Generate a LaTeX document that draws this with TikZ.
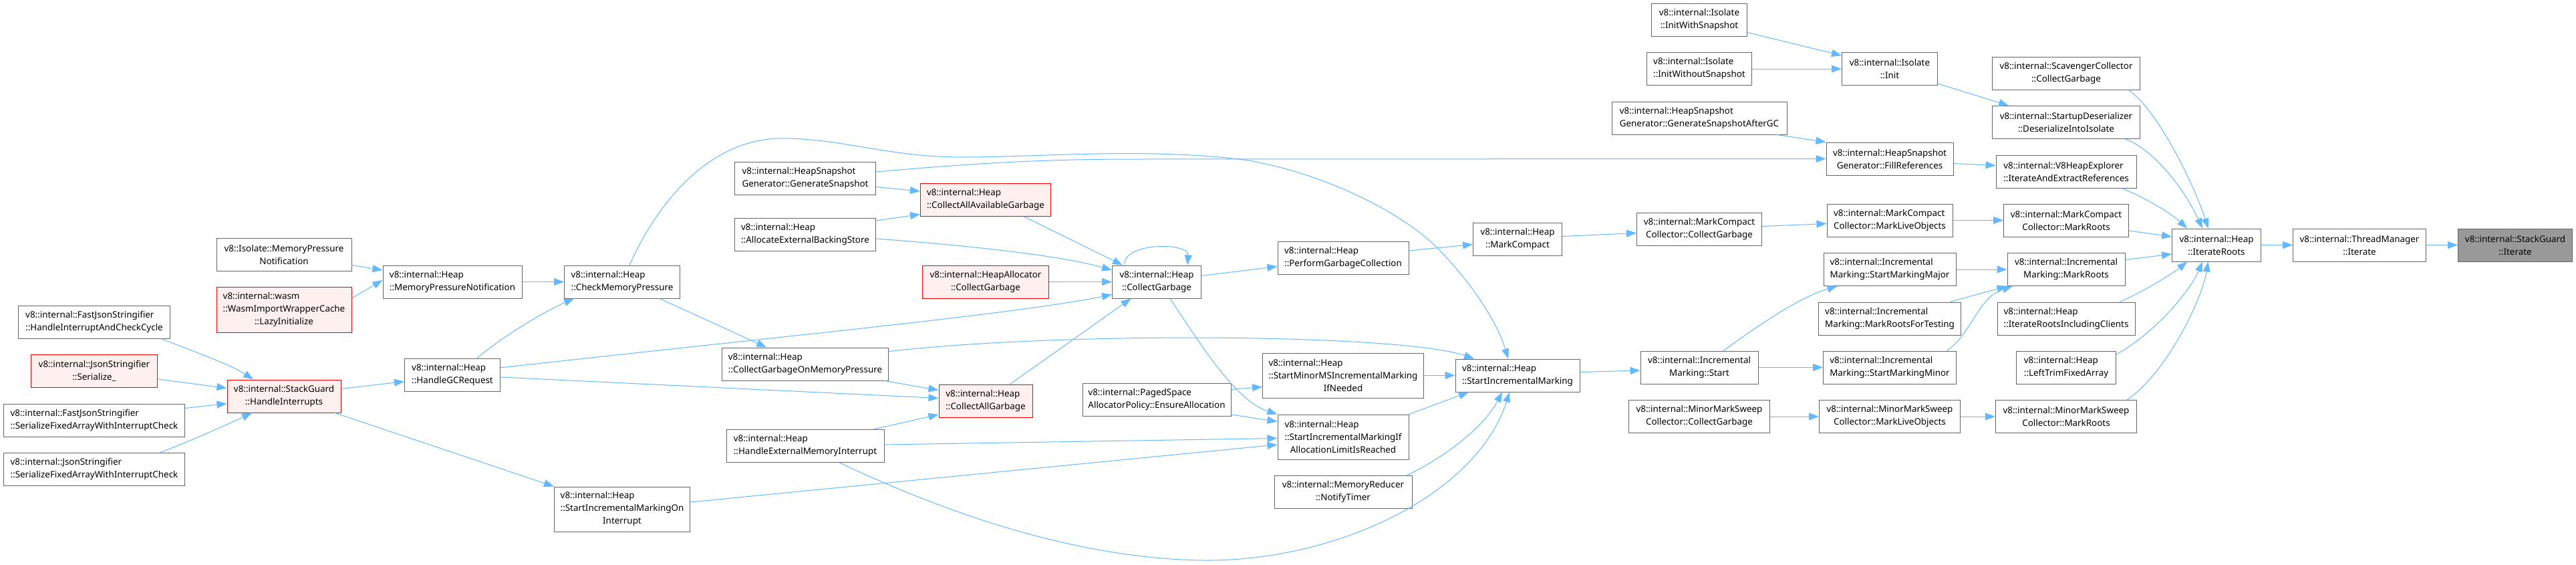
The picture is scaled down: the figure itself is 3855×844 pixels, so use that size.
\documentclass[tikz,border=0pt]{standalone}
\usepackage{fontspec}
\setmainfont{Noto Sans}
\usetikzlibrary{arrows.meta}

\definecolor{edgeblue}{HTML}{63B8FF}
\definecolor{boxline}{HTML}{666666}
\definecolor{redfill}{HTML}{FFF0F0}
\definecolor{curfill}{HTML}{999999}
\definecolor{curline}{HTML}{666666}

% last line of a label is centred, the others flush left
\newcommand{\centred}[1]{\hspace*{\fill}#1\hspace*{\fill}}

\tikzset{
  fnode/.style={draw=boxline, fill=white, line width=1pt, inner sep=1pt, align=left,
    minimum height=49pt, font=\fontsize{13.4pt}{19pt}\selectfont},
  three/.style={minimum height=67pt},
  redbox/.style={fnode, draw=red, fill=redfill},
  curbox/.style={fnode, draw=curline, fill=curfill},
  calls/.style={draw=edgeblue, line width=1pt, -{Triangle[length=15pt,width=11pt]}},
}

\begin{document}
\begin{tikzpicture}[x=1pt, y=-1pt]
\useasboundingbox (0,0) rectangle (3855,844);

% callers on the left
\node[fnode, minimum width=202pt] (isoMPN) at (425,380.5) {v8::Isolate::MemoryPressure\\\centred{Notification}};
\node[redbox, three, minimum width=202pt, minimum height=68pt] (wasmLazy) at (425,463) {v8::internal::wasm\\::WasmImportWrapperCache\\\centred{::LazyInitialize}};
\node[fnode, minimum width=227pt] (fastHandle) at (141,481.5) {v8::internal::FastJsonStringifier\\\centred{::HandleInterruptAndCheckCycle}};
\node[redbox, minimum width=189pt] (jsonSer) at (141,555) {v8::internal::JsonStringifier\\\centred{::Serialize\_}};
\node[fnode, minimum width=271pt] (fastSerFix) at (141,628.5) {v8::internal::FastJsonStringifier\\\centred{::SerializeFixedArrayWithInterruptCheck}};
\node[fnode, minimum width=271pt] (jsonSerFix) at (141,701.5) {v8::internal::JsonStringifier\\\centred{::SerializeFixedArrayWithInterruptCheck}};
\node[redbox, minimum width=170pt] (handleInt) at (425,592.5) {v8::internal::StackGuard\\\centred{::HandleInterrupts}};
\node[fnode, minimum width=208pt] (heapMPN) at (677,421.5) {v8::internal::Heap\\\centred{::MemoryPressureNotification}};
\node[fnode, minimum width=143pt] (handleGC) at (677,560.5) {v8::internal::Heap\\\centred{::HandleGCRequest}};
\node[fnode, minimum width=173pt] (checkMP) at (931,421.5) {v8::internal::Heap\\\centred{::CheckMemoryPressure}};
\node[fnode, three, minimum width=203pt] (startOnInt) at (931,761.5) {v8::internal::Heap\\::StartIncrementalMarkingOn\\\centred{Interrupt}};

% heap column
\node[fnode, minimum width=211pt] (genSnap) at (1205,266.5) {v8::internal::HeapSnapshot\\\centred{Generator::GenerateSnapshot}};
\node[fnode, minimum width=211pt] (allocExt) at (1205,351) {v8::internal::Heap\\\centred{::AllocateExternalBackingStore}};
\node[fnode, minimum width=249pt] (collectOnMP) at (1205,544.5) {v8::internal::Heap\\\centred{::CollectGarbageOnMemoryPressure}};
\node[fnode, minimum width=236pt] (handleExt) at (1205,667) {v8::internal::Heap\\\centred{::HandleExternalMemoryInterrupt}};
\node[redbox, minimum width=195pt] (collectAvail) at (1475,299) {v8::internal::Heap\\\centred{::CollectAllAvailableGarbage}};
\node[redbox, minimum width=189pt] (heapAllocCG) at (1475,421.5) {v8::internal::HeapAllocator\\\centred{::CollectGarbage}};
\node[redbox, minimum width=140pt] (collectAll) at (1475,599.5) {v8::internal::Heap\\\centred{::CollectAllGarbage}};
\node[fnode, minimum width=133pt] (heapCG) at (1731,421.5) {v8::internal::Heap\\\centred{::CollectGarbage}};
\node[fnode, minimum width=222pt] (pagedEnsure) at (1731,597.5) {v8::internal::PagedSpace\\\centred{AllocatorPolicy::EnsureAllocation}};
\node[fnode, minimum width=196pt] (perfGC) at (2010,385.5) {v8::internal::Heap\\\centred{::PerformGarbageCollection}};
\node[fnode, three, minimum width=241pt] (startMinorMS) at (2010,561.5) {v8::internal::Heap\\::StartMinorMSIncrementalMarking\\\centred{IfNeeded}};
\node[fnode, three, minimum width=196pt] (startIfLimit) at (2010,653.5) {v8::internal::Heap\\::StartIncrementalMarkingIf\\\centred{AllocationLimitIsReached}};
\node[fnode, minimum width=206pt] (memReducer) at (2010,736) {v8::internal::MemoryReducer\\\centred{::NotifyTimer}};
\node[fnode, minimum width=133pt] (markCompact) at (2271,357.5) {v8::internal::Heap\\\centred{::MarkCompact}};
\node[fnode, minimum width=186pt] (startIncMark) at (2271,561.5) {v8::internal::Heap\\\centred{::StartIncrementalMarking}};

% isolate, snapshot and marking
\node[fnode, minimum width=143pt] (initWith) at (2543,29.5) {v8::internal::Isolate\\\centred{::InitWithSnapshot}};
\node[fnode, minimum width=157pt] (initWithout) at (2543,103) {v8::internal::Isolate\\\centred{::InitWithoutSnapshot}};
\node[fnode, minimum width=262pt] (genSnapAfter) at (2543,176.5) {v8::internal::HeapSnapshot\\\centred{Generator::GenerateSnapshotAfterGC}};
\node[fnode, minimum width=187pt] (mcCollect) at (2543,342.5) {v8::internal::MarkCompact\\\centred{Collector::CollectGarbage}};
\node[fnode, minimum width=176pt] (incStart) at (2543,549.5) {v8::internal::Incremental\\\centred{Marking::Start}};
\node[fnode, minimum width=211pt] (minorCollect) at (2543,623) {v8::internal::MinorMarkSweep\\\centred{Collector::CollectGarbage}};
\node[fnode, minimum width=143pt] (isoInit) at (2828,103) {v8::internal::Isolate\\\centred{::Init}};
\node[fnode, minimum width=190pt] (fillRefs) at (2828,237.5) {v8::internal::HeapSnapshot\\\centred{Generator::FillReferences}};
\node[fnode, minimum width=188pt] (mcMarkLive) at (2828,329.5) {v8::internal::MarkCompact\\\centred{Collector::MarkLiveObjects}};
\node[fnode, minimum width=198pt] (startMajor) at (2828,403) {v8::internal::Incremental\\\centred{Marking::StartMarkingMajor}};
\node[fnode, minimum width=213pt] (markRootsTesting) at (2828,476.5) {v8::internal::Incremental\\\centred{Marking::MarkRootsForTesting}};
\node[fnode, minimum width=199pt] (startMinor) at (2828,549.5) {v8::internal::Incremental\\\centred{Marking::StartMarkingMinor}};
\node[fnode, minimum width=211pt] (minorMarkLive) at (2828,623) {v8::internal::MinorMarkSweep\\\centred{Collector::MarkLiveObjects}};
\node[fnode, minimum width=221pt] (scavCollect) at (3092,109.5) {v8::internal::ScavengerCollector\\\centred{::CollectGarbage}};
\node[fnode, minimum width=221pt] (startupDeser) at (3092,183) {v8::internal::StartupDeserializer\\\centred{::DeserializeIntoIsolate}};
\node[fnode, minimum width=210pt] (iterExtract) at (3092,256.5) {v8::internal::V8HeapExplorer\\\centred{::IterateAndExtractReferences}};
\node[fnode, minimum width=187pt] (mcMarkRoots) at (3092,329.5) {v8::internal::MarkCompact\\\centred{Collector::MarkRoots}};
\node[fnode, minimum width=176pt] (incMarkRoots) at (3092,403) {v8::internal::Incremental\\\centred{Marking::MarkRoots}};
\node[fnode, minimum width=206pt] (iterRootsClients) at (3092,476.5) {v8::internal::Heap\\\centred{::IterateRootsIncludingClients}};
\node[fnode, minimum width=149pt] (leftTrim) at (3092,549.5) {v8::internal::Heap\\\centred{::LeftTrimFixedArray}};
\node[fnode, minimum width=211pt] (minorMarkRoots) at (3092,623) {v8::internal::MinorMarkSweep\\\centred{Collector::MarkRoots}};

% the chain on the right
\node[fnode, minimum width=133pt] (iterRoots) at (3317,366.5) {v8::internal::Heap\\\centred{::IterateRoots}};
\node[fnode, minimum width=199pt] (threadIter) at (3531,366.5) {v8::internal::ThreadManager\\\centred{::Iterate}};
\node[curbox, minimum width=171pt] (stackIter) at (3764,366.5) {v8::internal::StackGuard\\\centred{::Iterate}};

% calls
\draw[calls] ([yshift=-16pt]isoMPN.east) -- ([yshift=17.5pt]heapMPN.west);
\draw[calls] ([yshift=17pt]wasmLazy.east) -- ([yshift=2.5pt]heapMPN.west);
\draw[calls] ([xshift=100pt]fastHandle.south) .. controls (275,520) and (345,545) .. ([xshift=-46pt]handleInt.north);
\draw[calls] ([yshift=-12pt]jsonSer.east) -- ([yshift=12pt]handleInt.west);
\draw[calls] ([yshift=18pt]fastSerFix.east) -- ([yshift=-11pt]handleInt.west);
\draw[calls] ([xshift=99pt]jsonSerFix.north) .. controls (270,666) and (340,635) .. ([xshift=-48pt]handleInt.south);
\draw[calls] ([yshift=11pt]handleInt.east) -- ([yshift=-10pt]handleGC.west);
\draw[calls] ([xshift=76pt]handleInt.south) -- (startOnInt.north west);
\draw[calls] (heapMPN) -- (checkMP);
\draw[calls] ([xshift=37pt]handleGC.north) .. controls (750,505) and (810,468) .. ([xshift=-72pt]checkMP.south);
\draw[calls] ([xshift=56pt]checkMP.south) -- ([xshift=-58pt]collectOnMP.north);
\draw[calls] ([xshift=11pt]checkMP.north) .. controls (990,290) and (1070,207) .. (1170,207)
  .. controls (1260,207) and (1330,235) .. (1440,235) .. controls (1560,235) and (1720,220) .. (1869,240)
  .. controls (1990,262) and (2100,320) .. (2150,370) .. controls (2200,420) and (2240,480) .. ([xshift=-14pt]startIncMark.north);
\draw[calls] ([yshift=9.5pt]genSnap.east) .. controls (1450,245) and (1550,238) .. (1700,238) -- (fillRefs.west);
\draw[calls] ([yshift=-13pt]genSnap.east) -- ([yshift=13pt]collectAvail.west);
\draw[calls] ([yshift=21pt]allocExt.east) -- ([yshift=-21.5pt]collectAvail.west);
\draw[calls] ([yshift=-6pt]allocExt.east) .. controls (1420,365) and (1580,380) .. ([yshift=17.5pt]heapCG.west);
\draw[calls] ([xshift=57.5pt]collectAvail.south) -- ([xshift=-51pt]heapCG.north);
\draw[calls] (heapAllocCG) -- (heapCG);
\draw[calls] ([xshift=-48pt]heapCG.north) .. controls (1680,362) and (1780,362) .. ([xshift=46pt]heapCG.north);
\draw[calls] ([yshift=10.5pt]handleGC.east) .. controls (1150,505) and (1520,470) .. ([yshift=-19pt]heapCG.west);
\draw[calls] ([xshift=119pt]collectOnMP.south) -- ([yshift=16pt]collectAll.west);
\draw[calls] ([yshift=-3.5pt]handleGC.east) -- ([yshift=4pt]collectAll.west);
\draw[calls] ([xshift=102pt]handleExt.north) -- ([yshift=-20.5pt]collectAll.west);
\draw[calls] ([xshift=36.5pt]collectAll.north) -- ([xshift=-38.5pt]heapCG.south);
\draw[calls] ([yshift=9pt]heapCG.east) -- ([yshift=-13pt]perfGC.west);
\draw[calls] ([xshift=20pt]heapCG.south) .. controls (1800,520) and (1850,600) .. (startIfLimit.north west);
\draw[calls] ([yshift=19pt]collectOnMP.east) .. controls (1600,495) and (2100,500) .. ([xshift=-65pt]startIncMark.north);
\draw[calls] ([yshift=15pt]pagedEnsure.east) -- ([yshift=-17pt]startMinorMS.west);
\draw[calls] ([yshift=-22.5pt]pagedEnsure.east) -- ([yshift=23pt]startIfLimit.west);
\draw[calls] ([yshift=2pt]handleExt.east) -- ([yshift=-2pt]startIfLimit.west);
\draw[calls] ([yshift=10.5pt]startOnInt.east) -- ([yshift=-11.5pt]startIfLimit.west);
\draw[calls] ([xshift=51.5pt]handleExt.south) .. controls (1400,760) and (1600,835) .. (1800,838)
  .. controls (2000,840) and (2210,740) .. ([xshift=-12pt]startIncMark.south);
\draw[calls] (startMinorMS) -- (startIncMark);
\draw[calls] (startIfLimit.north east) -- ([xshift=-73pt]startIncMark.south);
\draw[calls] ([xshift=95pt]memReducer.north) .. controls (2160,685) and (2220,640) .. ([xshift=-23pt]startIncMark.south);
\draw[calls] ([yshift=5pt]startIncMark.east) -- ([yshift=-4.5pt]incStart.west);
\draw[calls] ([yshift=10.5pt]perfGC.east) -- ([yshift=-8pt]markCompact.west);
\draw[calls] ([yshift=4pt]markCompact.east) -- ([yshift=-6pt]mcCollect.west);
\draw[calls] ([yshift=-19pt]initWith.east) -- ([yshift=20pt]isoInit.west);
\draw[calls] (initWithout) -- (isoInit);
\draw[calls] ([yshift=-22pt]isoInit.east) -- ([xshift=-86pt]startupDeser.north);
\draw[calls] ([xshift=116pt]genSnapAfter.south) -- (fillRefs.north west);
\draw[calls] ([yshift=-7pt]fillRefs.east) -- ([yshift=9pt]iterExtract.west);
\draw[calls] ([yshift=4pt]mcCollect.east) -- ([yshift=-5pt]mcMarkLive.west);
\draw[calls] (mcMarkLive) -- (mcMarkRoots);
\draw[calls] ([xshift=36pt]incStart.north) .. controls (2620,495) and (2690,445) .. ([xshift=-78.5pt]startMajor.south);
\draw[calls] (incStart) -- (startMinor);
\draw[calls] (startMajor) -- (incMarkRoots);
\draw[calls] ([xshift=90pt]markRootsTesting.north) -- (incMarkRoots.south west);
\draw[calls] ([xshift=85.5pt]startMinor.north) .. controls (2950,500) and (2960,445) .. ([xshift=8pt]incMarkRoots.south west);
\draw[calls] (minorCollect) -- (minorMarkLive);
\draw[calls] (minorMarkLive) -- (minorMarkRoots);
\draw[calls] ([xshift=93pt]scavCollect.south) .. controls (3230,165) and (3285,280) .. ([xshift=-12.5pt]iterRoots.north);
\draw[calls] ([xshift=89pt]startupDeser.south) .. controls (3225,225) and (3270,285) .. ([xshift=-21pt]iterRoots.north);
\draw[calls] ([xshift=82.5pt]iterExtract.south) .. controls (3210,295) and (3250,320) .. ([xshift=-44pt]iterRoots.north);
\draw[calls] ([yshift=-15.5pt]mcMarkRoots.east) -- ([yshift=12.5pt]iterRoots.west);
\draw[calls] ([yshift=14.5pt]incMarkRoots.east) -- ([yshift=-13.5pt]iterRoots.west);
\draw[calls] ([xshift=80pt]iterRootsClients.north) .. controls (3210,435) and (3250,410) .. ([xshift=-44pt]iterRoots.south);
\draw[calls] ([yshift=19.5pt]leftTrim.east) .. controls (3230,495) and (3280,430) .. ([xshift=-21pt]iterRoots.south);
\draw[calls] ([xshift=91pt]minorMarkRoots.north) .. controls (3240,560) and (3295,450) .. ([xshift=-12.5pt]iterRoots.south);
\draw[calls] (iterRoots) -- (threadIter);
\draw[calls] (threadIter) -- (stackIter);
\end{tikzpicture}
\end{document}
